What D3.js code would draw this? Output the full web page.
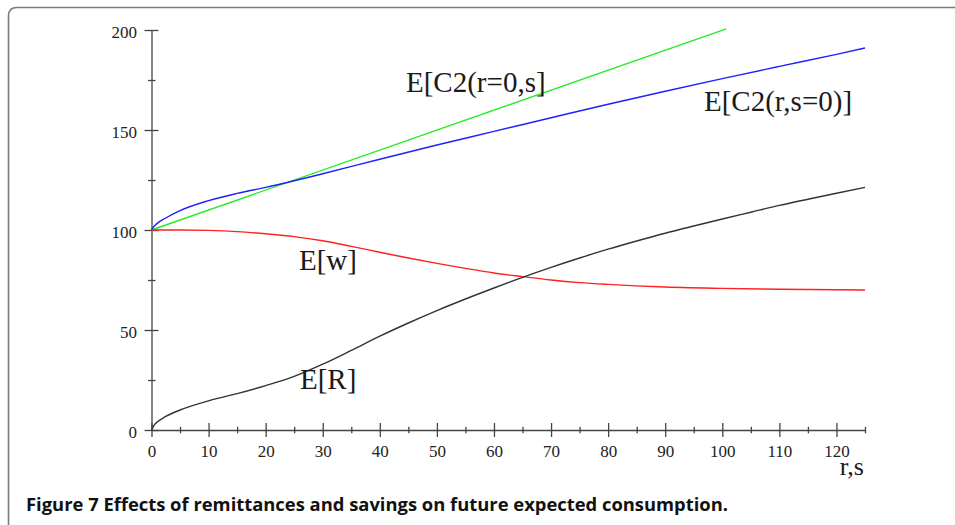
<!DOCTYPE html>
<html><head><meta charset="utf-8">
<script src="https://cdn.jsdelivr.net/npm/d3@7"></script>
<style>
html,body{margin:0;padding:0;background:#fff;}
svg{display:block;}
</style></head>
<body>
<script>
// ---- data ----
const xMajorTicks = [0,10,20,30,40,50,60,70,80,90,100,110,120];
const xMinorTicks = [5,15,25,35,45,55,65,75,85,95,105,115,125];
const yMajorTicks = [0,50,100,150,200];
const yMinorTicks = [25,75,125,175];

const greenR = [0, 100.7];
const greenV = [100, 200.6];

const blueR = [0, 0.5, 1, 2.5, 5, 10, 15, 20, 25, 30, 40, 50, 60, 70, 80, 90, 100, 110, 120, 125];
const blueV = [100, 102, 103.3, 106, 109.7, 114.7, 118.3, 121.3, 124.6, 128.1, 135.4, 142.5, 149.3, 156.1, 162.9, 169.4, 175.7, 181.8, 187.8, 191];

const redR = [0, 5, 10, 15, 20, 25, 30, 35, 40, 45, 50, 55, 60, 65, 70, 75, 80, 90, 100, 110, 125];
const redV = [100, 100, 99.8, 99.2, 98.1, 96.7, 94.6, 91.8, 88.9, 86, 83.3, 80.8, 78.5, 76.7, 75, 73.7, 72.8, 71.5, 70.8, 70.4, 70];

const blackR = [0, 0.5, 1, 2.5, 5, 10, 15, 20, 25, 30, 35, 40, 45, 50, 55, 60, 65, 70, 75, 80, 85, 90, 95, 100, 105, 110, 115, 120, 125];
const blackV = [0, 2.6, 4, 6.8, 10, 14.6, 18.2, 22.2, 26.8, 32.9, 39.8, 46.9, 53.5, 59.7, 65.5, 71, 76.3, 81.3, 86, 90.4, 94.5, 98.4, 102, 105.5, 108.9, 112.3, 115.4, 118.4, 121.3];

const seriesLabels = ["E[C2(r=0,s]", "E[C2(r,s=0)]", "E[w]", "E[R]"];
const xAxisLabel = "r,s";
const caption = "Figure 7 Effects of remittances and savings on future expected consumption.";

// ---- drawing ----
const W = 955, H = 525;
const svg = d3.select("body").append("svg").attr("width", W).attr("height", H);

// figure frame (top + left border with rounded corner)
svg.append("path")
  .attr("d", `M8.5,${H} L8.5,16 Q8.5,7.5 17,7.5 L${W},7.5`)
  .attr("fill", "none").attr("stroke", "#7a7a7a").attr("stroke-width", 1.6);

const x = d3.scaleLinear().domain([0, 125]).range([151.5, 865]);
const y = d3.scaleLinear().domain([0, 200]).range([430, 30]);

const axisColor = "#444";
const serif = "'Liberation Serif','Times New Roman',serif";

// X axis major
const gx = svg.append("g").attr("transform", `translate(0,${y(0)})`)
  .call(d3.axisBottom(x).tickValues(xMajorTicks).tickSize(7).tickSizeOuter(0).tickPadding(0));
gx.select(".domain").attr("stroke", axisColor).attr("stroke-width", 1.3);
gx.selectAll(".tick line").attr("y1", -7).attr("y2", 7).attr("stroke", axisColor).attr("stroke-width", 1.3);
gx.selectAll(".tick text").attr("y", 27).attr("dy", null)
  .style("font-family", serif).style("font-size", "17px").style("fill", "#222");
// X axis minor
const gxm = svg.append("g").attr("transform", `translate(0,${y(0)})`)
  .call(d3.axisBottom(x).tickValues(xMinorTicks).tickSize(3.3).tickSizeOuter(0).tickFormat(""));
gxm.select(".domain").remove();
gxm.selectAll(".tick line").attr("y1", -3.3).attr("y2", 3.3).attr("stroke", axisColor).attr("stroke-width", 1.3);

// Y axis major
const gy = svg.append("g").attr("transform", `translate(${x(0)},0)`)
  .call(d3.axisLeft(y).tickValues(yMajorTicks).tickSize(7).tickSizeOuter(0).tickPadding(0));
gy.select(".domain").attr("stroke", axisColor).attr("stroke-width", 1.3);
gy.selectAll(".tick line").attr("x1", -7).attr("x2", 7).attr("stroke", axisColor).attr("stroke-width", 1.3);
gy.selectAll(".tick text").attr("x", -14.5).attr("dy", null).attr("y", 7.5)
  .style("font-family", serif).style("font-size", "17px").style("fill", "#222");
// Y axis minor
const gym = svg.append("g").attr("transform", `translate(${x(0)},0)`)
  .call(d3.axisLeft(y).tickValues(yMinorTicks).tickSize(4).tickSizeOuter(0).tickFormat(""));
gym.select(".domain").remove();
gym.selectAll(".tick line").attr("x1", -3.5).attr("x2", 4).attr("stroke", axisColor).attr("stroke-width", 1.3);

// series
const line = d3.line().x(d => x(d[0])).y(d => y(d[1])).curve(d3.curveMonotoneX);
const series = [
  {r: greenR, v: greenV, color: "#22ee22"},
  {r: blueR, v: blueV, color: "#2020ff"},
  {r: redR, v: redV, color: "#ff2020"},
  {r: blackR, v: blackV, color: "#333333"}
];
series.forEach(s => {
  svg.append("path")
    .datum(s.r.map((r, i) => [r, s.v[i]]))
    .attr("d", line)
    .attr("fill", "none").attr("stroke", s.color).attr("stroke-width", 1.4);
});

// series labels
const labelPos = [[406, 91.7], [704, 110.7], [299, 270], [300, 389]];
seriesLabels.forEach((t, i) => {
  svg.append("text").attr("x", labelPos[i][0]).attr("y", labelPos[i][1])
    .style("font-family", serif).style("font-size", "29px").style("fill", "#1a1a1a").text(t);
});

// x axis label
svg.append("text").attr("x", 864).attr("y", 475).attr("text-anchor", "end")
  .style("font-family", serif).style("font-size", "26px").style("fill", "#1a1a1a").text(xAxisLabel);

// caption
svg.append("text").attr("x", 26).attr("y", 511)
  .style("font-family", "'Open Sans','Noto Sans',sans-serif").style("font-weight", "bold")
  .style("font-size", "17.5px").style("fill", "#111")
  .attr("textLength", 702).attr("lengthAdjust", "spacingAndGlyphs")
  .text(caption);
</script>
</body></html>
